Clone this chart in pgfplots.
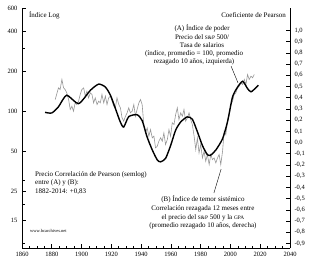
\documentclass[border=0pt]{standalone}
\usepackage{pgfplots}
\pgfplotsset{compat=1.18}
\usepackage{fontspec}
\setmainfont{Liberation Serif}
\definecolor{grayline}{RGB}{150,150,150}
\newcommand{\sm}[1]{{\fontsize{5.3}{6}\selectfont #1}}
\begin{document}
\begin{tikzpicture}
\pgfplotsset{
  common/.style={
    scale only axis, width=268pt, height=240pt,
    xmin=1860, xmax=2040,
    tick align=inside,
    axis line style={-, line width=0.8pt},
    major tick length=4pt, minor tick length=2.5pt,
    tick style={line width=0.7pt, black},
    tick label style={font=\fontsize{6.5}{7}\selectfont},
    /pgf/number format/assume math mode=true,
  }
}
% right axis (B) gray
\begin{axis}[common, name=right,
  axis y line*=right, axis x line=none,
  ymin=-0.94, ymax=1.2,
  ytick={-0.9,-0.8,-0.7,-0.6,-0.5,-0.4,-0.3,-0.2,-0.1,0,0.1,0.2,0.3,0.4,0.5,0.6,0.7,0.8,0.9,1.0},
  yticklabels={{-0,9},{-0,8},{-0,7},{-0,6},{-0,5},{-0,4},{-0,3},{-0,2},{-0,1},{0,0},{0,1},{0,2},{0,3},{0,4},{0,5},{0,6},{0,7},{0,8},{0,9},{1,0}},
  yticklabel style={xshift=1pt},
]
\addplot[grayline, line width=0.6pt] coordinates {
(1882.3,0.384)(1884.5,0.488)(1885.6,0.473)(1886.8,0.563)(1887.9,0.488)(1889.0,0.473)
(1890.1,0.443)(1891.3,0.384)(1892.4,0.295)(1893.5,0.324)(1894.6,0.280)(1895.7,0.354)
(1896.9,0.339)(1898.0,0.369)(1899.1,0.429)(1900.2,0.473)(1901.4,0.488)(1902.5,0.414)
(1903.6,0.458)(1904.7,0.399)(1905.9,0.443)(1907.0,0.429)(1908.1,0.354)(1909.2,0.399)
(1910.4,0.339)(1911.5,0.369)(1912.6,0.354)(1913.7,0.429)(1914.9,0.354)(1916.0,0.414)
(1917.1,0.339)(1918.2,0.399)(1919.4,0.414)(1920.5,0.369)(1921.6,0.324)(1922.7,0.310)
(1923.8,0.399)(1925.0,0.339)(1926.1,0.310)(1927.2,0.220)(1928.3,0.191)(1929.5,0.235)
(1930.6,0.265)(1931.7,0.310)(1932.8,0.265)(1934.0,0.280)(1935.1,0.339)(1936.2,0.235)
(1937.3,0.295)(1938.5,0.354)(1939.6,0.384)(1940.7,0.339)(1941.8,0.161)(1942.9,0.086)
(1944.1,0.131)(1945.2,0.057)(1946.3,0.116)(1947.5,0.042)(1948.6,0.057)(1949.7,-0.047)
(1950.8,-0.033)(1951.9,0.012)(1953.1,0.042)(1954.2,0.012)(1955.3,0.086)(1956.4,-0.018)
(1957.6,0.027)(1958.7,0.116)(1959.8,0.057)(1960.9,0.176)(1962.1,0.161)(1963.2,0.250)
(1964.3,0.310)(1965.4,0.205)(1966.6,0.265)(1967.7,0.235)(1968.8,0.295)(1969.9,0.191)
(1971.1,0.220)(1972.2,0.265)(1973.3,0.205)(1974.4,0.161)(1975.6,0.057)(1976.7,-0.062)
(1977.8,0.042)(1978.9,-0.092)(1980.0,-0.018)(1981.2,-0.137)(1982.3,-0.077)(1983.4,-0.166)
(1984.5,-0.107)(1985.7,-0.196)(1986.8,-0.107)(1987.9,-0.152)(1989.0,-0.137)(1990.2,-0.181)
(1991.3,-0.137)(1992.4,-0.107)(1993.5,-0.196)(1994.7,-0.077)(1995.8,0.101)(1996.9,0.071)
(1998.0,0.191)(1999.2,0.250)(2000.3,0.339)(2001.4,0.369)(2002.5,0.429)(2003.6,0.443)
(2004.8,0.488)(2005.9,0.503)(2007.0,0.533)(2008.2,0.518)(2009.3,0.563)(2010.4,0.518)
(2011.5,0.607)(2012.6,0.563)(2013.8,0.592)(2014.9,0.578)(2016.0,0.607)
};
\end{axis}
% left axis (A) black
\begin{axis}[common, name=main,
  axis y line*=left, axis x line*=bottom,
  ymode=log, ymin=9.3, ymax=600,
  ytick={15,25,50,100,200,400,600},
  yticklabels={15,25,50,100,200,400,600},
  minor ytick={10,20,30,300},
  xtick={1860,1880,1900,1920,1940,1960,1980,2000,2020,2040},
  minor xtick={1865,1870,1875,1885,1890,1895,1905,1910,1915,1925,1930,1935,1945,1950,1955,1965,1970,1975,1985,1990,1995,2005,2010,2015,2025,2030,2035},
  xticklabel style={/pgf/number format/1000 sep={}, yshift=-1pt},
  yticklabel style={xshift=-1pt},
  clip=false,
]
\addplot[black, line width=1.4pt, smooth, tension=0.4] coordinates {
(1875.5,98)(1880,97)(1884.5,108)(1890,132)(1898,114)(1906,144)(1911.5,160)(1916,152)
(1919.4,132)(1922.7,105)(1926,83)(1928.3,76)(1931.7,91)(1937.3,94)(1940.7,85)(1944,64)
(1947.5,51)(1950.8,43)(1953,41.5)(1956.4,44)(1959.8,55)(1963.2,72)(1966.6,83)(1971,90.6)
(1974.4,87)(1977.8,70)(1981.2,55)(1984.5,47)(1986.8,46.7)(1990.2,51)(1994.7,62)(1998,83)
(2001.4,128)(2004.8,152)(2008.2,168)(2011.5,148)(2013.8,140)(2017,150)(2018.7,157)
};
\tikzset{txt/.style={font=\fontsize{7}{8.6}\selectfont, inner sep=0pt}}
\node[txt, anchor=west] at (rel axis cs:0.026,0.971) {Índice Log};
\node[txt, anchor=east] at (rel axis cs:0.985,0.971) {Coeficiente de Pearson};
\node[txt, align=center] at (rel axis cs:0.672,0.883) {(A) Índice de poder\\Precio del \sm{S\&P} 500/\\Tasa de salarios};
\node[txt, align=center] at (rel axis cs:0.642,0.792) {(índice, promedio = 100, promedio\\rezagado 10 años, izquierda)};
\draw[line width=0.4pt] (rel axis cs:0.780,0.758) -- (rel axis cs:0.806,0.688);
\node[txt, align=center] at (rel axis cs:0.675,0.148) {(B) Índice de temor sistémico\\Correlación rezagada 12 meses entre\\el precio del \sm{S\&P} 500 y la \sm{GPA}\\(promedio rezagado 10 años, derecha)};
\draw[line width=0.4pt] (rel axis cs:0.743,0.329) -- (rel axis cs:0.716,0.229);
\node[txt, align=left, anchor=west] at (rel axis cs:0.0485,0.271) {Precio Correlación de Pearson (semlog)\\entre (A) y (B):\\1882-2014: +0,83};
\node[txt, anchor=west, font=\fontsize{4.5}{5}\selectfont] at (rel axis cs:0.03,0.071) {www.bcarchives.net};
\end{axis}
\pgfresetboundingbox
\path[use as bounding box] ([xshift=-22pt,yshift=-14pt]main.south west) rectangle ([xshift=32pt,yshift=8pt]main.north east);
\end{tikzpicture}
\end{document}
